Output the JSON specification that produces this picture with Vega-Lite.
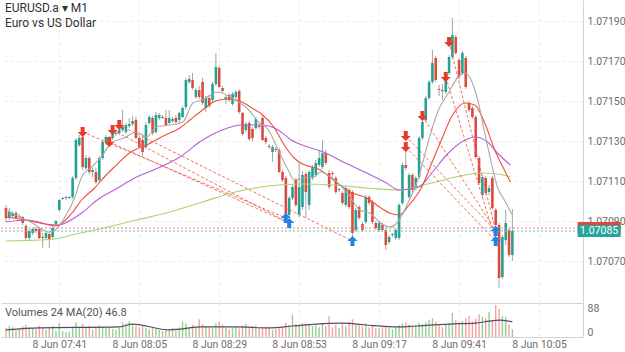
{
  "$schema": "https://vega.github.io/schema/vega-lite/v6.json",
  "background": "white",
  "padding": 0,
  "config": {
    "view": {"stroke": null},
    "concat": {"spacing": 0},
    "font": "Roboto",
    "axis": {
      "labelFont": "Roboto",
      "labelFontSize": 10.5,
      "labelColor": "#6e6e6e",
      "domainColor": "#d4d4d4",
      "gridColor": "#e9e9e9",
      "gridDash": [3, 3],
      "ticks": false,
      "title": null
    }
  },
  "datasets": {
    "candles": [
      {"k":0,"o":1.070965,"h":1.07098,"l":1.070895,"c":1.070915,"v":28},
      {"k":1,"o":1.070915,"h":1.070965,"l":1.070905,"c":1.070945,"v":35},
      {"k":2,"o":1.070925,"h":1.07095,"l":1.070915,"c":1.07094,"v":30},
      {"k":3,"o":1.07094,"h":1.07095,"l":1.07091,"c":1.070915,"v":22},
      {"k":4,"o":1.07092,"h":1.070935,"l":1.07091,"c":1.070925,"v":25},
      {"k":5,"o":1.07092,"h":1.070925,"l":1.07088,"c":1.07089,"v":33},
      {"k":6,"o":1.070875,"h":1.070885,"l":1.070805,"c":1.070815,"v":38},
      {"k":7,"o":1.070815,"h":1.07086,"l":1.070805,"c":1.07085,"v":30},
      {"k":8,"o":1.07084,"h":1.070865,"l":1.07083,"c":1.07086,"v":26},
      {"k":9,"o":1.07086,"h":1.07087,"l":1.07084,"c":1.07085,"v":24},
      {"k":10,"o":1.07086,"h":1.07087,"l":1.07081,"c":1.070815,"v":35},
      {"k":11,"o":1.07082,"h":1.07084,"l":1.070765,"c":1.070815,"v":28},
      {"k":12,"o":1.070815,"h":1.07085,"l":1.070805,"c":1.07084,"v":22},
      {"k":13,"o":1.070835,"h":1.070845,"l":1.070765,"c":1.070805,"v":30},
      {"k":14,"o":1.07082,"h":1.070875,"l":1.07081,"c":1.070865,"v":34},
      {"k":15,"o":1.070885,"h":1.070905,"l":1.070875,"c":1.0709,"v":20},
      {"k":16,"o":1.070955,"h":1.07101,"l":1.07095,"c":1.071005,"v":42},
      {"k":17,"o":1.07101,"h":1.07102,"l":1.071005,"c":1.071015,"v":18},
      {"k":18,"o":1.071015,"h":1.071025,"l":1.071005,"c":1.07102,"v":15},
      {"k":19,"o":1.071015,"h":1.071025,"l":1.07101,"c":1.07102,"v":17},
      {"k":20,"o":1.07102,"h":1.071125,"l":1.07101,"c":1.071115,"v":32},
      {"k":21,"o":1.071115,"h":1.071315,"l":1.071105,"c":1.071305,"v":45},
      {"k":22,"o":1.07128,"h":1.07133,"l":1.07127,"c":1.071315,"v":30},
      {"k":23,"o":1.07132,"h":1.071345,"l":1.071155,"c":1.07117,"v":40},
      {"k":24,"o":1.071165,"h":1.07123,"l":1.071155,"c":1.071215,"v":28},
      {"k":25,"o":1.071215,"h":1.071225,"l":1.071135,"c":1.071145,"v":35},
      {"k":26,"o":1.071145,"h":1.071165,"l":1.07112,"c":1.071155,"v":22},
      {"k":27,"o":1.071145,"h":1.071165,"l":1.071085,"c":1.071095,"v":30},
      {"k":28,"o":1.071105,"h":1.071225,"l":1.071095,"c":1.071215,"v":36},
      {"k":29,"o":1.071215,"h":1.071305,"l":1.071205,"c":1.071295,"v":33},
      {"k":30,"o":1.071295,"h":1.07133,"l":1.07128,"c":1.07132,"v":27},
      {"k":31,"o":1.071295,"h":1.071325,"l":1.07127,"c":1.071315,"v":30},
      {"k":32,"o":1.071315,"h":1.071355,"l":1.071305,"c":1.07134,"v":25},
      {"k":33,"o":1.071335,"h":1.071355,"l":1.071325,"c":1.07134,"v":22},
      {"k":34,"o":1.07134,"h":1.071365,"l":1.07133,"c":1.071355,"v":28},
      {"k":35,"o":1.071355,"h":1.071455,"l":1.071345,"c":1.07137,"v":45},
      {"k":36,"o":1.071345,"h":1.07139,"l":1.071335,"c":1.07138,"v":42},
      {"k":37,"o":1.071375,"h":1.071415,"l":1.071365,"c":1.071385,"v":48},
      {"k":38,"o":1.071385,"h":1.071425,"l":1.071375,"c":1.0714,"v":40},
      {"k":39,"o":1.071405,"h":1.07142,"l":1.07131,"c":1.071315,"v":35},
      {"k":40,"o":1.071315,"h":1.071325,"l":1.071265,"c":1.07127,"v":30},
      {"k":41,"o":1.071305,"h":1.07132,"l":1.071225,"c":1.071245,"v":33},
      {"k":42,"o":1.07127,"h":1.071395,"l":1.07126,"c":1.07138,"v":28},
      {"k":43,"o":1.07139,"h":1.07143,"l":1.07138,"c":1.07142,"v":24},
      {"k":44,"o":1.071415,"h":1.071425,"l":1.07133,"c":1.07134,"v":30},
      {"k":45,"o":1.071345,"h":1.071445,"l":1.071335,"c":1.07143,"v":26},
      {"k":46,"o":1.071415,"h":1.07144,"l":1.071405,"c":1.07143,"v":22},
      {"k":47,"o":1.071415,"h":1.07143,"l":1.07141,"c":1.07142,"v":18},
      {"k":48,"o":1.071415,"h":1.071455,"l":1.071375,"c":1.07138,"v":25},
      {"k":49,"o":1.07139,"h":1.071455,"l":1.071385,"c":1.071415,"v":20},
      {"k":50,"o":1.0714,"h":1.07142,"l":1.07139,"c":1.07141,"v":28},
      {"k":51,"o":1.071415,"h":1.07143,"l":1.071385,"c":1.071395,"v":24},
      {"k":52,"o":1.071405,"h":1.071445,"l":1.071395,"c":1.07144,"v":30},
      {"k":53,"o":1.07142,"h":1.071475,"l":1.071415,"c":1.071465,"v":48},
      {"k":54,"o":1.07147,"h":1.071615,"l":1.071455,"c":1.071605,"v":42},
      {"k":55,"o":1.071595,"h":1.07163,"l":1.071585,"c":1.07161,"v":30},
      {"k":56,"o":1.071605,"h":1.07164,"l":1.071555,"c":1.071565,"v":38},
      {"k":57,"o":1.07152,"h":1.071565,"l":1.07151,"c":1.071555,"v":32},
      {"k":58,"o":1.071555,"h":1.071575,"l":1.07151,"c":1.07152,"v":55},
      {"k":59,"o":1.071595,"h":1.071615,"l":1.07148,"c":1.07149,"v":40},
      {"k":60,"o":1.071465,"h":1.071525,"l":1.071445,"c":1.071515,"v":35},
      {"k":61,"o":1.071515,"h":1.07153,"l":1.071465,"c":1.071475,"v":30},
      {"k":62,"o":1.071505,"h":1.071595,"l":1.071495,"c":1.071585,"v":28},
      {"k":63,"o":1.071585,"h":1.07174,"l":1.071575,"c":1.07167,"v":42},
      {"k":64,"o":1.071665,"h":1.071675,"l":1.071565,"c":1.07157,"v":48},
      {"k":65,"o":1.071565,"h":1.071575,"l":1.07154,"c":1.07155,"v":38},
      {"k":66,"o":1.07151,"h":1.07153,"l":1.071485,"c":1.07152,"v":30},
      {"k":67,"o":1.07153,"h":1.07154,"l":1.071495,"c":1.071505,"v":24},
      {"k":68,"o":1.071485,"h":1.071545,"l":1.071475,"c":1.071535,"v":28},
      {"k":69,"o":1.07152,"h":1.071555,"l":1.07151,"c":1.071545,"v":32},
      {"k":70,"o":1.07155,"h":1.07156,"l":1.071435,"c":1.071445,"v":26},
      {"k":71,"o":1.07144,"h":1.071445,"l":1.071325,"c":1.071335,"v":36},
      {"k":72,"o":1.071355,"h":1.071395,"l":1.071345,"c":1.071385,"v":40},
      {"k":73,"o":1.07139,"h":1.0714,"l":1.0713,"c":1.07131,"v":30},
      {"k":74,"o":1.07136,"h":1.07137,"l":1.0713,"c":1.071315,"v":33},
      {"k":75,"o":1.071365,"h":1.07142,"l":1.071355,"c":1.07141,"v":36},
      {"k":76,"o":1.071375,"h":1.071385,"l":1.07136,"c":1.07137,"v":28},
      {"k":77,"o":1.071415,"h":1.071425,"l":1.0713,"c":1.071305,"v":30},
      {"k":78,"o":1.071315,"h":1.071325,"l":1.071285,"c":1.071295,"v":26},
      {"k":79,"o":1.071275,"h":1.071285,"l":1.07126,"c":1.07127,"v":32},
      {"k":80,"o":1.071245,"h":1.07128,"l":1.071195,"c":1.07127,"v":22},
      {"k":81,"o":1.07126,"h":1.07127,"l":1.071245,"c":1.071255,"v":25},
      {"k":82,"o":1.071255,"h":1.071265,"l":1.07114,"c":1.071145,"v":30},
      {"k":83,"o":1.071145,"h":1.071155,"l":1.071095,"c":1.071105,"v":28},
      {"k":84,"o":1.071115,"h":1.071125,"l":1.07092,"c":1.07093,"v":44},
      {"k":85,"o":1.07093,"h":1.071025,"l":1.07092,"c":1.071015,"v":38},
      {"k":86,"o":1.071015,"h":1.07108,"l":1.071005,"c":1.07107,"v":70},
      {"k":87,"o":1.071105,"h":1.071115,"l":1.07097,"c":1.07098,"v":40},
      {"k":88,"o":1.07093,"h":1.071195,"l":1.07092,"c":1.07107,"v":36},
      {"k":89,"o":1.07097,"h":1.07115,"l":1.070955,"c":1.07113,"v":42},
      {"k":90,"o":1.071135,"h":1.071145,"l":1.070915,"c":1.071045,"v":38},
      {"k":91,"o":1.07098,"h":1.071155,"l":1.070955,"c":1.071145,"v":40},
      {"k":92,"o":1.071115,"h":1.07118,"l":1.071105,"c":1.07117,"v":34},
      {"k":93,"o":1.07113,"h":1.071205,"l":1.07112,"c":1.07119,"v":36},
      {"k":94,"o":1.07118,"h":1.071255,"l":1.07117,"c":1.071215,"v":30},
      {"k":95,"o":1.07117,"h":1.071305,"l":1.07116,"c":1.07124,"v":42},
      {"k":96,"o":1.07124,"h":1.071255,"l":1.07118,"c":1.07119,"v":33},
      {"k":97,"o":1.07114,"h":1.071155,"l":1.07106,"c":1.07107,"v":64},
      {"k":98,"o":1.07114,"h":1.07115,"l":1.071115,"c":1.071135,"v":30},
      {"k":99,"o":1.071115,"h":1.071125,"l":1.071035,"c":1.071045,"v":38},
      {"k":100,"o":1.071055,"h":1.071065,"l":1.071045,"c":1.07106,"v":28},
      {"k":101,"o":1.07104,"h":1.07105,"l":1.07098,"c":1.07099,"v":42},
      {"k":102,"o":1.07098,"h":1.071075,"l":1.07097,"c":1.071065,"v":35},
      {"k":103,"o":1.071055,"h":1.071065,"l":1.07096,"c":1.07097,"v":46},
      {"k":104,"o":1.071045,"h":1.071055,"l":1.07082,"c":1.07084,"v":55},
      {"k":105,"o":1.070855,"h":1.070965,"l":1.070845,"c":1.070955,"v":40},
      {"k":106,"o":1.07097,"h":1.07098,"l":1.070905,"c":1.070915,"v":38},
      {"k":107,"o":1.070885,"h":1.070895,"l":1.070845,"c":1.070855,"v":32},
      {"k":108,"o":1.070895,"h":1.07103,"l":1.070885,"c":1.07102,"v":42},
      {"k":109,"o":1.07102,"h":1.07103,"l":1.07098,"c":1.07099,"v":30},
      {"k":110,"o":1.070995,"h":1.071005,"l":1.070885,"c":1.070895,"v":36},
      {"k":111,"o":1.07089,"h":1.0709,"l":1.070855,"c":1.070865,"v":28},
      {"k":112,"o":1.070855,"h":1.0709,"l":1.070845,"c":1.07089,"v":26},
      {"k":113,"o":1.07088,"h":1.07089,"l":1.070845,"c":1.070855,"v":30},
      {"k":114,"o":1.070855,"h":1.070865,"l":1.070755,"c":1.07078,"v":34},
      {"k":115,"o":1.070795,"h":1.07083,"l":1.070785,"c":1.07082,"v":28},
      {"k":116,"o":1.07083,"h":1.07084,"l":1.07082,"c":1.070835,"v":24},
      {"k":117,"o":1.070815,"h":1.070865,"l":1.070805,"c":1.070855,"v":30},
      {"k":118,"o":1.070815,"h":1.07099,"l":1.070805,"c":1.07098,"v":36},
      {"k":119,"o":1.07099,"h":1.07119,"l":1.07098,"c":1.07118,"v":42},
      {"k":120,"o":1.07118,"h":1.071255,"l":1.071155,"c":1.071165,"v":45},
      {"k":121,"o":1.07102,"h":1.07114,"l":1.07101,"c":1.07113,"v":38},
      {"k":122,"o":1.07113,"h":1.07114,"l":1.071045,"c":1.071055,"v":32},
      {"k":123,"o":1.071065,"h":1.071125,"l":1.071055,"c":1.071115,"v":36},
      {"k":124,"o":1.07112,"h":1.071325,"l":1.07111,"c":1.071315,"v":44},
      {"k":125,"o":1.071315,"h":1.071405,"l":1.071305,"c":1.071395,"v":40},
      {"k":126,"o":1.071405,"h":1.071525,"l":1.071395,"c":1.071515,"v":46},
      {"k":127,"o":1.071515,"h":1.071605,"l":1.071505,"c":1.071595,"v":52},
      {"k":128,"o":1.071595,"h":1.071755,"l":1.071585,"c":1.07169,"v":58},
      {"k":129,"o":1.071715,"h":1.071725,"l":1.071595,"c":1.071605,"v":48},
      {"k":130,"o":1.07156,"h":1.07158,"l":1.071525,"c":1.071555,"v":36},
      {"k":131,"o":1.071555,"h":1.071585,"l":1.071505,"c":1.07155,"v":30},
      {"k":132,"o":1.071545,"h":1.071615,"l":1.071535,"c":1.071605,"v":38},
      {"k":133,"o":1.07164,"h":1.07173,"l":1.07163,"c":1.07172,"v":44},
      {"k":134,"o":1.07172,"h":1.071915,"l":1.07171,"c":1.07183,"v":74},
      {"k":135,"o":1.07182,"h":1.07183,"l":1.07173,"c":1.07174,"v":52},
      {"k":136,"o":1.071705,"h":1.071715,"l":1.07161,"c":1.07162,"v":46},
      {"k":137,"o":1.07164,"h":1.07175,"l":1.07163,"c":1.07174,"v":50},
      {"k":138,"o":1.071715,"h":1.071725,"l":1.07156,"c":1.07157,"v":58},
      {"k":139,"o":1.07149,"h":1.0715,"l":1.071445,"c":1.071455,"v":66},
      {"k":140,"o":1.071465,"h":1.071475,"l":1.07141,"c":1.07142,"v":48},
      {"k":141,"o":1.07142,"h":1.07143,"l":1.07121,"c":1.07122,"v":56},
      {"k":142,"o":1.071215,"h":1.071225,"l":1.07108,"c":1.07109,"v":70},
      {"k":143,"o":1.07103,"h":1.07113,"l":1.07102,"c":1.07112,"v":62},
      {"k":144,"o":1.071115,"h":1.071125,"l":1.07103,"c":1.07104,"v":58},
      {"k":145,"o":1.071045,"h":1.07108,"l":1.07103,"c":1.071065,"v":77},
      {"k":146,"o":1.071115,"h":1.071125,"l":1.070955,"c":1.070965,"v":52},
      {"k":147,"o":1.070955,"h":1.070965,"l":1.07087,"c":1.07088,"v":99},
      {"k":148,"o":1.07088,"h":1.07089,"l":1.070565,"c":1.070615,"v":87},
      {"k":149,"o":1.07062,"h":1.07083,"l":1.07061,"c":1.07082,"v":64},
      {"k":150,"o":1.070805,"h":1.070955,"l":1.07078,"c":1.07089,"v":62},
      {"k":151,"o":1.070855,"h":1.070865,"l":1.07072,"c":1.07073,"v":40},
      {"k":152,"o":1.07073,"h":1.07096,"l":1.0707,"c":1.07085,"v":24}
    ],
    "ma": [
      {"s":"long","k":0,"p":1.0708},{"s":"long","k":14.75,"p":1.07081},{"s":"long","k":19.8,"p":1.07083},{"s":"long","k":29.5,"p":1.070865},{"s":"long","k":39.2,"p":1.070905},{"s":"long","k":49.3,"p":1.070945},{"s":"long","k":59,"p":1.070995},{"s":"long","k":68.8,"p":1.071045},{"s":"long","k":78.8,"p":1.071075},{"s":"long","k":88.5,"p":1.071085},{"s":"long","k":98.3,"p":1.07108},{"s":"long","k":108.3,"p":1.071065},{"s":"long","k":118,"p":1.071055},{"s":"long","k":127.8,"p":1.07109},{"s":"long","k":137.8,"p":1.07113},{"s":"long","k":142.5,"p":1.07114},{"s":"long","k":147.5,"p":1.071135},{"s":"long","k":151.4,"p":1.07112},
      {"s":"slow","k":0,"p":1.070895},{"s":"slow","k":5.9,"p":1.070905},{"s":"slow","k":9.7,"p":1.070895},{"s":"slow","k":14.75,"p":1.070875},{"s":"slow","k":17.1,"p":1.070885},{"s":"slow","k":22.7,"p":1.07094},{"s":"slow","k":27.4,"p":1.071005},{"s":"slow","k":32.5,"p":1.071055},{"s":"slow","k":39.2,"p":1.07112},{"s":"slow","k":44.3,"p":1.071155},{"s":"slow","k":52.2,"p":1.07122},{"s":"slow","k":59,"p":1.071305},{"s":"slow","k":64.9,"p":1.071355},{"s":"slow","k":70.8,"p":1.07138},{"s":"slow","k":76.7,"p":1.07138},{"s":"slow","k":81.7,"p":1.071355},{"s":"slow","k":85.6,"p":1.071305},{"s":"slow","k":90.6,"p":1.07127},{"s":"slow","k":95.3,"p":1.071245},{"s":"slow","k":101.2,"p":1.071195},{"s":"slow","k":108.3,"p":1.07114},{"s":"slow","k":114.2,"p":1.07109},{"s":"slow","k":118,"p":1.071055},{"s":"slow","k":123.9,"p":1.07107},{"s":"slow","k":127.8,"p":1.07114},{"s":"slow","k":132.8,"p":1.07124},{"s":"slow","k":137.8,"p":1.071305},{"s":"slow","k":140.7,"p":1.07132},{"s":"slow","k":144.6,"p":1.071295},{"s":"slow","k":147.5,"p":1.07124},{"s":"slow","k":151.4,"p":1.07118},
      {"s":"mid","k":0,"p":1.07092},{"s":"mid","k":5.9,"p":1.070905},{"s":"mid","k":11.8,"p":1.070885},{"s":"mid","k":15.6,"p":1.07088},{"s":"mid","k":19.8,"p":1.07094},{"s":"mid","k":22.7,"p":1.071005},{"s":"mid","k":26.6,"p":1.071065},{"s":"mid","k":29.5,"p":1.07112},{"s":"mid","k":32.5,"p":1.07117},{"s":"mid","k":37.5,"p":1.071245},{"s":"mid","k":42.2,"p":1.07128},{"s":"mid","k":47.2,"p":1.071325},{"s":"mid","k":52.2,"p":1.071365},{"s":"mid","k":55.2,"p":1.071405},{"s":"mid","k":59,"p":1.071455},{"s":"mid","k":62.9,"p":1.0715},{"s":"mid","k":67,"p":1.07151},{"s":"mid","k":70.8,"p":1.071495},{"s":"mid","k":73.8,"p":1.071465},{"s":"mid","k":76.7,"p":1.071435},{"s":"mid","k":80.6,"p":1.071365},{"s":"mid","k":83.5,"p":1.07128},{"s":"mid","k":86.5,"p":1.071215},{"s":"mid","k":88.5,"p":1.07119},{"s":"mid","k":94.4,"p":1.071155},{"s":"mid","k":98.3,"p":1.071105},{"s":"mid","k":103.3,"p":1.071045},{"s":"mid","k":108.3,"p":1.071015},{"s":"mid","k":112.1,"p":1.07097},{"s":"mid","k":115.1,"p":1.07094},{"s":"mid","k":118,"p":1.07093},{"s":"mid","k":121,"p":1.07098},{"s":"mid","k":124.8,"p":1.07107},{"s":"mid","k":127.8,"p":1.07119},{"s":"mid","k":130.7,"p":1.071305},{"s":"mid","k":133.7,"p":1.07142},{"s":"mid","k":137.8,"p":1.07149},{"s":"mid","k":140.7,"p":1.07148},{"s":"mid","k":143.7,"p":1.07139},{"s":"mid","k":146.7,"p":1.071255},{"s":"mid","k":149.6,"p":1.071155},{"s":"mid","k":151.4,"p":1.071095},
      {"s":"fast","k":0,"p":1.070955},{"s":"fast","k":2.95,"p":1.07093},{"s":"fast","k":8,"p":1.07089},{"s":"fast","k":12.7,"p":1.070845},{"s":"fast","k":14.75,"p":1.070855},{"s":"fast","k":17.7,"p":1.07092},{"s":"fast","k":20.7,"p":1.07102},{"s":"fast","k":22.7,"p":1.07112},{"s":"fast","k":25.7,"p":1.07117},{"s":"fast","k":28.6,"p":1.07122},{"s":"fast","k":31.6,"p":1.07129},{"s":"fast","k":35.4,"p":1.071315},{"s":"fast","k":39.2,"p":1.071345},{"s":"fast","k":42.2,"p":1.07132},{"s":"fast","k":45.1,"p":1.07137},{"s":"fast","k":49.3,"p":1.07138},{"s":"fast","k":53.1,"p":1.071395},{"s":"fast","k":56.1,"p":1.07149},{"s":"fast","k":59,"p":1.071505},{"s":"fast","k":63.4,"p":1.071545},{"s":"fast","k":68.8,"p":1.071505},{"s":"fast","k":72.9,"p":1.071455},{"s":"fast","k":75.8,"p":1.071395},{"s":"fast","k":78.8,"p":1.071355},{"s":"fast","k":81.7,"p":1.071255},{"s":"fast","k":84.7,"p":1.071155},{"s":"fast","k":86.5,"p":1.071105},{"s":"fast","k":89.4,"p":1.071115},{"s":"fast","k":92.4,"p":1.07112},{"s":"fast","k":94.4,"p":1.071145},{"s":"fast","k":97.4,"p":1.07112},{"s":"fast","k":100.3,"p":1.07108},{"s":"fast","k":103.3,"p":1.07102},{"s":"fast","k":106.2,"p":1.070955},{"s":"fast","k":109.2,"p":1.07094},{"s":"fast","k":112.1,"p":1.070895},{"s":"fast","k":115.1,"p":1.07087},{"s":"fast","k":117.4,"p":1.07089},{"s":"fast","k":120.1,"p":1.07097},{"s":"fast","k":123.9,"p":1.07112},{"s":"fast","k":126.9,"p":1.071305},{"s":"fast","k":129.8,"p":1.071455},{"s":"fast","k":132.8,"p":1.07154},{"s":"fast","k":135.7,"p":1.07162},{"s":"fast","k":137.8,"p":1.07164},{"s":"fast","k":139.6,"p":1.071605},{"s":"fast","k":141.6,"p":1.071505},{"s":"fast","k":143.7,"p":1.07134},{"s":"fast","k":145.5,"p":1.071205},{"s":"fast","k":147.5,"p":1.07107},{"s":"fast","k":149.6,"p":1.071005},{"s":"fast","k":152,"p":1.07093}
    ],
    "trades": [
      {"id":1,"k":23,"p":1.071345},{"id":1,"k":84,"p":1.070915},
      {"id":2,"k":31,"p":1.071295},{"id":2,"k":85,"p":1.07089},
      {"id":3,"k":32,"p":1.071355},{"id":3,"k":85,"p":1.07089},
      {"id":4,"k":34,"p":1.07138},{"id":4,"k":104,"p":1.0708},
      {"id":5,"k":120,"p":1.071325},{"id":5,"k":147,"p":1.07085},
      {"id":6,"k":120,"p":1.07127},{"id":6,"k":147,"p":1.0708},
      {"id":7,"k":125,"p":1.071425},{"id":7,"k":147,"p":1.07085},
      {"id":8,"k":132,"p":1.07162},{"id":8,"k":147,"p":1.0708},
      {"id":9,"k":133,"p":1.071795},{"id":9,"k":147,"p":1.07085}
    ],
    "signals": [
      {"side":"sell","k":23,"p":1.071345},{"side":"sell","k":31,"p":1.071295},{"side":"sell","k":32,"p":1.071355},{"side":"sell","k":34,"p":1.07138},
      {"side":"sell","k":120,"p":1.071325},{"side":"sell","k":120,"p":1.07127},{"side":"sell","k":125,"p":1.071425},{"side":"sell","k":132,"p":1.07162},{"side":"sell","k":133,"p":1.071795},
      {"side":"buy","k":84,"p":1.070915},{"side":"buy","k":85,"p":1.07089},{"side":"buy","k":104,"p":1.0708},{"side":"buy","k":147,"p":1.07085},{"side":"buy","k":147,"p":1.0708}
    ],
    "levels": [
      {"kind":"ask","p":1.070865},
      {"kind":"bid","p":1.07085}
    ],
    "volma": [
      {"k":0,"v":22},{"k":10,"v":28},{"k":34,"v":31},{"k":38,"v":40},{"k":49,"v":22},{"k":59,"v":31},{"k":69,"v":31},{"k":79,"v":28},{"k":86,"v":34},{"k":93,"v":40},{"k":101,"v":43},{"k":108,"v":37},{"k":118,"v":31},{"k":123,"v":34},{"k":133,"v":40},{"k":141,"v":43},{"k":145,"v":49},{"k":148,"v":52},{"k":152,"v":46.8}
    ]
  },
  "vconcat": [
    {
      "width": 582,
      "height": 303,
      "title": {
        "text": "EURUSD.a ▾ M1",
        "subtitle": "Euro vs US Dollar",
        "anchor": "start",
        "frame": "group",
        "orient": "top",
        "offset": -30,
        "dx": 4,
        "font": "Roboto",
        "fontSize": 12,
        "fontWeight": "normal",
        "color": "#333333",
        "subtitleFont": "Roboto",
        "subtitleFontSize": 12,
        "subtitleColor": "#333333",
        "subtitlePadding": 3
      },
      "layer": [
        {
          "data": {"name": "candles"},
          "mark": {"type": "rule", "color": "#a4a4a4", "strokeWidth": 1},
          "encoding": {
            "x": {"field": "k", "type": "quantitative", "scale": {"domain": [0, 171.7], "nice": false, "zero": false},
                  "axis": {"values": [16, 40, 64, 88, 112, 136, 160], "labels": false, "domain": true, "grid": true, "orient": "bottom"}},
            "y": {"field": "l", "type": "quantitative", "scale": {"domain": [1.07049, 1.072005], "nice": false, "zero": false},
                  "axis": {"orient": "right", "values": [1.0707, 1.0709, 1.0711, 1.0713, 1.0715, 1.0717, 1.0719], "format": ".5f", "grid": true, "domain": true, "labelPadding": 4}},
            "y2": {"field": "h"}
          }
        },
        {
          "data": {"name": "candles"},
          "mark": {"type": "bar", "orient": "vertical", "width": 2.6},
          "encoding": {
            "x": {"field": "k", "type": "quantitative"},
            "y": {"field": "o", "type": "quantitative"},
            "y2": {"field": "c"},
            "color": {"condition": {"test": "datum.c >= datum.o", "value": "#26a092"}, "value": "#dc4a3e"}
          }
        },
        {
          "data": {"name": "ma"},
          "mark": {"type": "line", "strokeWidth": 1.1, "interpolate": "monotone"},
          "encoding": {
            "x": {"field": "k", "type": "quantitative"},
            "y": {"field": "p", "type": "quantitative"},
            "color": {"field": "s", "type": "nominal", "legend": null,
                      "scale": {"domain": ["long", "slow", "mid", "fast"], "range": ["#a8d670", "#b45fdc", "#f0503c", "#a9a9a9"]}},
            "order": {"field": "k"}
          }
        },
        {
          "data": {"name": "trades"},
          "mark": {"type": "line", "color": "#f06050", "strokeWidth": 1, "strokeDash": [3, 2], "opacity": 0.9},
          "encoding": {
            "x": {"field": "k", "type": "quantitative"},
            "y": {"field": "p", "type": "quantitative"},
            "detail": {"field": "id", "type": "nominal"}
          }
        },
        {
          "data": {"name": "levels"},
          "mark": {"type": "rule", "strokeWidth": 1, "strokeDash": [2, 2]},
          "encoding": {
            "y": {"field": "p", "type": "quantitative"},
            "color": {"condition": {"test": "datum.kind === 'ask'", "value": "#f27d72"}, "value": "#6cc4bc"}
          }
        },
        {
          "data": {"name": "signals"},
          "transform": [{"filter": "datum.side === 'sell'"}],
          "mark": {"type": "point", "filled": true, "opacity": 1, "size": 100, "color": "#e8392a",
                   "shape": "M-0.4,-1L0.4,-1L0.4,0L1,0L0,1L-1,0L-0.4,0Z"},
          "encoding": {
            "x": {"field": "k", "type": "quantitative"},
            "y": {"field": "p", "type": "quantitative"}
          }
        },
        {
          "data": {"name": "signals"},
          "transform": [{"filter": "datum.side === 'buy'"}],
          "mark": {"type": "point", "filled": true, "opacity": 1, "size": 100, "color": "#1f84e6",
                   "shape": "M-0.4,1L0.4,1L0.4,0L1,0L0,-1L-1,0L-0.4,0Z"},
          "encoding": {
            "x": {"field": "k", "type": "quantitative"},
            "y": {"field": "p", "type": "quantitative"}
          }
        },
        {
          "data": {"name": "levels"},
          "mark": {"type": "rect", "width": 43, "height": 12},
          "encoding": {
            "x": {"datum": 178.05},
            "y": {"field": "p", "type": "quantitative"},
            "color": {"condition": {"test": "datum.kind === 'ask'", "value": "#e0473d"}, "value": "#26a69a"}
          }
        },
        {
          "data": {"name": "levels"},
          "transform": [{"filter": "datum.kind === 'bid'"}],
          "mark": {"type": "text", "color": "white", "font": "Roboto", "fontSize": 10.5, "align": "center", "baseline": "middle"},
          "encoding": {
            "x": {"datum": 178.05},
            "y": {"field": "p", "type": "quantitative"},
            "text": {"field": "p", "type": "quantitative", "format": ".5f"}
          }
        }
      ]
    },
    {
      "width": 582,
      "height": 34,
      "data": {"name": "candles"},
      "title": {
        "text": "Volumes 24 MA(20) 46.8",
        "anchor": "start",
        "frame": "group",
        "orient": "top",
        "offset": -15,
        "dx": 4,
        "font": "Roboto",
        "fontSize": 11,
        "fontWeight": "normal",
        "color": "#555555"
      },
      "layer": [
        {
          "mark": {"type": "bar", "orient": "vertical", "width": 1.4},
          "encoding": {
            "x": {"field": "k", "type": "quantitative", "scale": {"domain": [0, 171.7], "nice": false, "zero": false},
                  "axis": {"values": [16, 40, 64, 88, 112, 136, 160], "grid": true, "domain": true, "labelPadding": 2,
                           "labelExpr": "'8 Jun ' + timeFormat(datetime(2023, 5, 8, 7, 25 + datum.value), '%H:%M')"}},
            "y": {"field": "v", "type": "quantitative", "scale": {"domain": [0, 105], "nice": false},
                  "axis": {"orient": "right", "values": [0, 88], "grid": false, "domain": true, "labelPadding": 4,
                           "labelBaseline": {"condition": {"test": "datum.value === 0", "value": "bottom"}, "value": "middle"}}},
            "color": {"condition": {"test": "datum.c >= datum.o", "value": "#93d18f"}, "value": "#f3a2a0"}
          }
        },
        {
          "data": {"name": "volma"},
          "mark": {"type": "line", "color": "#5c4868", "strokeWidth": 1.2, "interpolate": "monotone"},
          "encoding": {
            "x": {"field": "k", "type": "quantitative"},
            "y": {"field": "v", "type": "quantitative"}
          }
        }
      ]
    }
  ]
}
